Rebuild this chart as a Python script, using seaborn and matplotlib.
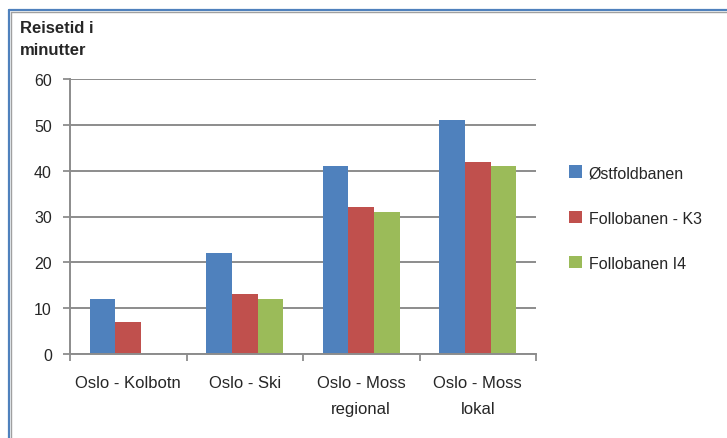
import matplotlib
matplotlib.use("Agg")
import matplotlib.pyplot as plt
from matplotlib.lines import Line2D
import numpy as np
import pandas as pd
import seaborn as sns

# Travel times (minutes) per route and line
routes = ["Oslo - Kolbotn", "Oslo - Ski", "Oslo - Moss\nregional", "Oslo - Moss\nlokal"]
series = ["Østfoldbanen", "Follobanen - K3", "Follobanen I4"]
ostfold = [12, 22, 41, 51]
follo_k3 = [7, 13, 32, 42]
follo_i4 = [np.nan, 12, 31, 41]
colors = ["#4F81BD", "#C0504D", "#9BBB59"]
yticks = [0, 10, 20, 30, 40, 50, 60]

df = pd.DataFrame({
    "route": routes * 3,
    "series": [series[0]] * 4 + [series[1]] * 4 + [series[2]] * 4,
    "minutes": ostfold + follo_k3 + follo_i4,
})

sns.set_theme(style="white")
plt.rcParams["font.family"] = ["Liberation Sans", "DejaVu Sans"]

W, H = 727, 439
fig = plt.figure(figsize=(W / 100, H / 100), dpi=100)
ax = fig.add_axes([70 / W, 1 - 355 / H, (536 - 70) / W, (355 - 80) / H])

sns.barplot(data=df, x="route", y="minutes", hue="series", palette=colors,
            hue_order=series, order=routes, width=0.66, saturation=1,
            ax=ax, legend=True, linewidth=0)

ax.set_ylim(0, 60)
ax.set_xlim(-0.5, len(routes) - 0.5)
ax.set_yticks(yticks)
ax.set_yticklabels([str(t) for t in yticks], fontsize=11.5)
ax.yaxis.grid(True, color="#8C8C8C", linewidth=1.4)
ax.set_axisbelow(True)
ax.set_xlabel("")
ax.set_ylabel("")

# category boundary ticks on the x axis
ax.set_xticks(np.arange(-0.5, len(routes), 1.0))
ax.set_xticklabels([])
ax.set_xticks(np.arange(len(routes)), minor=True)
ax.set_xticklabels(routes, minor=True, fontsize=12, linespacing=1.95)
ax.tick_params(axis="x", which="major", direction="out", length=5, width=1.3,
               color="#8C8C8C", bottom=True)
ax.tick_params(axis="x", which="minor", length=0, pad=15)
ax.tick_params(axis="y", direction="out", length=5, width=1.3, color="#8C8C8C",
               left=True, pad=8)

for side in ["top", "right"]:
    ax.spines[side].set_visible(False)
for side in ["left", "bottom"]:
    ax.spines[side].set_color("#8C8C8C")
    ax.spines[side].set_linewidth(1.4)

# y axis title in the top-left corner
fig.text(20 / W, 1 - 21 / H, "Reisetid i\nminutter", fontsize=12,
         fontweight="bold", va="top", ha="left", linespacing=1.55)

# legend at the right
leg = ax.legend(loc="center left", bbox_to_anchor=(555 / W, 1 - 219 / H),
                bbox_transform=fig.transFigure, frameon=False, fontsize=11.5,
                handlelength=0.8, handleheight=0.8, handletextpad=0.4,
                labelspacing=1.9)

# chart frame
fig.add_artist(Line2D([9 / W, 9 / W], [0, 1 - 11 / H], transform=fig.transFigure,
                      color="#4F81BD", linewidth=1.6))
fig.add_artist(Line2D([9 / W, 1], [1 - 11 / H, 1 - 11 / H], transform=fig.transFigure,
                      color="#4F81BD", linewidth=1.6))
fig.add_artist(Line2D([10.8 / W, 10.8 / W], [0, 1 - 13 / H], transform=fig.transFigure,
                      color="#A0A0A0", linewidth=1.0))
fig.add_artist(Line2D([10.8 / W, 1], [1 - 13 / H, 1 - 13 / H], transform=fig.transFigure,
                      color="#A0A0A0", linewidth=1.0))

fig.savefig("out.png", dpi=100)
